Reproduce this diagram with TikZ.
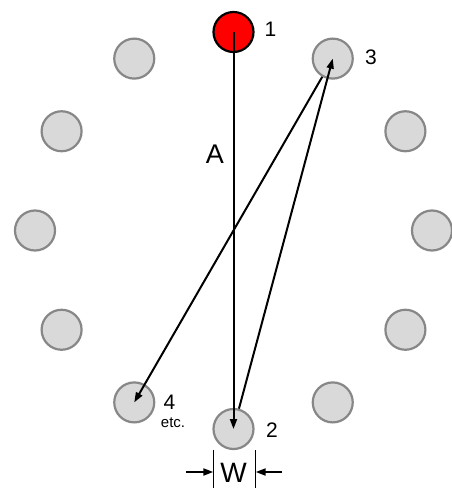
\documentclass[tikz,border=0pt]{standalone}
\usepackage{fontspec}
\setmainfont{Liberation Sans}
\usepackage{tikz}
\usetikzlibrary{arrows.meta, calc}

\definecolor{holefill}{HTML}{D9D9D9}
\definecolor{holeline}{HTML}{878787}

\begin{document}
\begin{tikzpicture}[x=1pt, y=1pt,
  hole/.style={circle, draw=holeline, fill=holefill, line width=2.2pt, minimum size=40pt, inner sep=0pt},
  first/.style={circle, draw=black, fill=red, line width=2.2pt, minimum size=40pt, inner sep=0pt},
  num/.style={font=\fontsize{21}{25}\selectfont, inner sep=0pt},
  arr/.style={draw=black, line width=2pt, -{Triangle[length=10pt, width=7pt]}},
  dim/.style={draw=black, line width=2pt, -{Triangle[length=10pt, width=7pt]}},
]
\useasboundingbox (0,0) rectangle (451,-488);
\coordinate (ctr) at (233.5,-230.5);

% ring of holes
\foreach \a in {0,30,60,120,150,180,210,240,270,300,330}
  \node[hole] (h\a) at ($(ctr)+(\a:198.5)$) {};
\node[first] (h90) at ($(ctr)+(90:198.5)$) {};

\node[num] (n1) at (270.5,-29)  {1};
\node[num] (n3) at (371,-57)    {3};
\node[num] (n2) at (272,-430.5) {2};
\node[num] (n4) at (169.5,-402.5) {4};
\node[font=\fontsize{15}{17}\selectfont, inner sep=0pt] (etc) at (173,-423) {etc.};
\node[font=\fontsize{27}{31}\selectfont, inner sep=0pt] (lA) at (215,-154) {A};
\node[font=\fontsize{28}{32}\selectfont, inner sep=0pt] (lW) at (233.5,-473) {W};

\draw[arr] (h90.center) -- (h270.center);
\draw[arr] (h270) -- (h60.center);
\draw[arr] (h60) -- (h240.center);

% width of a hole
\coordinate (wlt) at (213.3,-450);
\coordinate (wlb) at (213.3,-488);
\coordinate (wrt) at (255.7,-450);
\coordinate (wrb) at (255.7,-488);
\coordinate (al) at (186,-472);
\coordinate (ar) at (282,-472);
\draw[line width=1.5pt] (wlt) -- (wlb);
\draw[line width=1.5pt] (wrt) -- (wrb);
\draw[dim] (al) -- (al -| wlt);
\draw[dim] (ar) -- (ar -| wrt);
\end{tikzpicture}
\end{document}
